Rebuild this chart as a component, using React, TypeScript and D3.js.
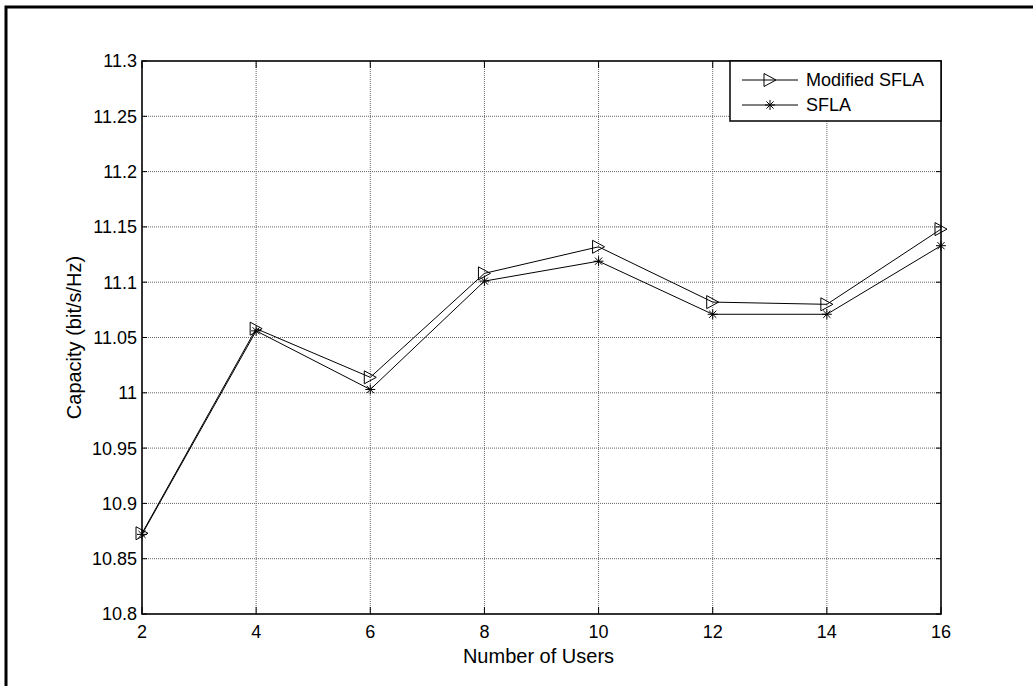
import React from "react";
import * as d3 from "d3";

const users = [2, 4, 6, 8, 10, 12, 14, 16];
const modifiedSfla = [10.873, 11.058, 11.014, 11.108, 11.132, 11.082, 11.080, 11.148];
const sfla = [10.872, 11.056, 11.003, 11.101, 11.119, 11.071, 11.071, 11.133];
const xTicks = [2, 4, 6, 8, 10, 12, 14, 16];
const yTicks = [10.8, 10.85, 10.9, 10.95, 11, 11.05, 11.1, 11.15, 11.2, 11.25, 11.3];

const width = 1033;
const height = 686;
const plot = { left: 142, top: 61, right: 941, bottom: 614 };
const font = "'Liberation Sans', Arial, sans-serif";

const x = d3.scaleLinear().domain([2, 16]).range([plot.left, plot.right]);
const y = d3.scaleLinear().domain([10.8, 11.3]).range([plot.bottom, plot.top]);

const line = d3
  .line<number>()
  .x((_, i) => x(users[i]))
  .y((d) => y(d));

function Triangle({ cx, cy }: { cx: number; cy: number }) {
  const h = 6.5;
  const w = 6;
  return (
    <path
      d={`M${cx - w},${cy - h} L${cx + w},${cy} L${cx - w},${cy + h} Z`}
      fill="none"
      stroke="#000"
      strokeWidth={1}
    />
  );
}

function Star({ cx, cy }: { cx: number; cy: number }) {
  const r = 5;
  const d = r * 0.72;
  return (
    <path
      d={`M${cx - r},${cy} L${cx + r},${cy} M${cx},${cy - r} L${cx},${cy + r} M${cx - d},${cy - d} L${cx + d},${cy + d} M${cx - d},${cy + d} L${cx + d},${cy - d}`}
      fill="none"
      stroke="#000"
      strokeWidth={1}
    />
  );
}

export default function App() {
  const legendX = 730;
  const legendY = 61;
  const legendW = plot.right - legendX;
  const legendH = 60;

  return (
    <svg
      width={width}
      height={height}
      style={{ position: "absolute", left: 0, top: 0, background: "#fff" }}
      fontFamily={font}
    >
      <rect x={6} y={7} width={1060} height={720} fill="#fff" stroke="#000" strokeWidth={3} />

      {/* grid */}
      {xTicks.slice(1, -1).map((t) => (
        <line key={`gx${t}`} x1={x(t)} x2={x(t)} y1={plot.top} y2={plot.bottom}
          stroke="#666" strokeWidth={1} strokeDasharray="1,1" />
      ))}
      {yTicks.slice(1, -1).map((t) => (
        <line key={`gy${t}`} x1={plot.left} x2={plot.right} y1={y(t)} y2={y(t)}
          stroke="#666" strokeWidth={1} strokeDasharray="1,1" />
      ))}

      {/* ticks */}
      {xTicks.map((t) => (
        <g key={`tx${t}`} stroke="#000" strokeWidth={1}>
          <line x1={x(t)} x2={x(t)} y1={plot.bottom} y2={plot.bottom - 7} />
          <line x1={x(t)} x2={x(t)} y1={plot.top} y2={plot.top + 7} />
        </g>
      ))}
      {yTicks.map((t) => (
        <g key={`ty${t}`} stroke="#000" strokeWidth={1}>
          <line x1={plot.left} x2={plot.left + 5} y1={y(t)} y2={y(t)} />
          <line x1={plot.right} x2={plot.right - 5} y1={y(t)} y2={y(t)} />
        </g>
      ))}

      {/* axes box */}
      <rect x={plot.left} y={plot.top} width={plot.right - plot.left} height={plot.bottom - plot.top}
        fill="none" stroke="#000" strokeWidth={1.6} />

      {/* tick labels */}
      {xTicks.map((t) => (
        <text key={`lx${t}`} x={x(t)} y={638} textAnchor="middle" fontSize={18} fill="#000">
          {t}
        </text>
      ))}
      {yTicks.map((t) => (
        <text key={`ly${t}`} x={137} y={y(t)} dy="0.36em" textAnchor="end" fontSize={18} fill="#000">
          {t}
        </text>
      ))}

      {/* axis labels */}
      <text x={(plot.left + plot.right) / 2 - 3} y={663} textAnchor="middle" fontSize={20} fill="#000">
        Number of Users
      </text>
      <text
        transform={`translate(81, ${(plot.top + plot.bottom) / 2}) rotate(-90)`}
        textAnchor="middle"
        fontSize={20}
        fill="#000"
      >
        Capacity (bit/s/Hz)
      </text>

      {/* series */}
      <path d={line(modifiedSfla) ?? ""} fill="none" stroke="#000" strokeWidth={1} />
      <path d={line(sfla) ?? ""} fill="none" stroke="#000" strokeWidth={1} />
      {modifiedSfla.map((v, i) => (
        <Triangle key={`m${i}`} cx={x(users[i])} cy={y(v)} />
      ))}
      {sfla.map((v, i) => (
        <Star key={`s${i}`} cx={x(users[i])} cy={y(v)} />
      ))}

      {/* legend */}
      <rect x={legendX} y={legendY} width={legendW} height={legendH} fill="#fff" stroke="#000" strokeWidth={1.5} />
      <line x1={742} x2={798} y1={80} y2={80} stroke="#000" strokeWidth={1} />
      <Triangle cx={770} cy={80} />
      <text x={806} y={86} fontSize={18} fill="#000">Modified SFLA</text>
      <line x1={742} x2={798} y1={105} y2={105} stroke="#000" strokeWidth={1} />
      <Star cx={770} cy={105} />
      <text x={806} y={111} fontSize={18} fill="#000">SFLA</text>
    </svg>
  );
}
